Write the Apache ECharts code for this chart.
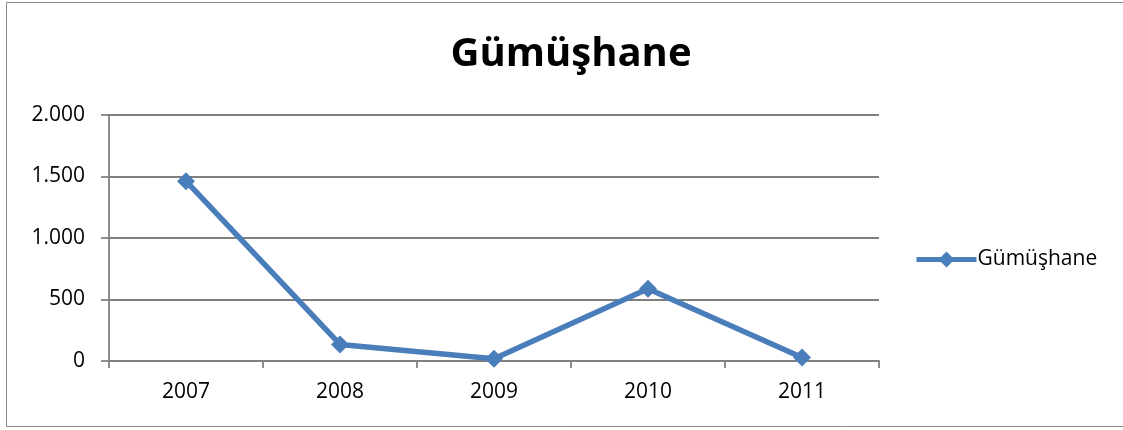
<!DOCTYPE html>
<html>
<head>
<meta charset="utf-8">
<script src="https://cdn.jsdelivr.net/npm/echarts@6/dist/echarts.min.js"></script>
<style>
  html, body { margin: 0; padding: 0; background: #fff; }
  #chart { width: 1123px; height: 430px; }
</style>
</head>
<body>
<div id="chart"></div>
<script>
// values
const years = ['2007', '2008', '2009', '2010', '2011'];
const gumushane = [1462, 135, 18, 588, 28];
const seriesName = 'Gümüşhane';

const chart = echarts.init(document.getElementById('chart'));

// turkish thousands separator: 1.500
function fmt(v) {
    return String(v).replace(/\B(?=(\d{3})+(?!\d))/g, '.');
}

const font = 'Open Sans, Liberation Sans, sans-serif';

chart.setOption({
    animation: false,
    backgroundColor: '#fff',
    graphic: [{
        type: 'rect',
        shape: { x: 6.5, y: 2.5, width: 1130, height: 424 },
        style: { fill: 'none', stroke: '#888', lineWidth: 1 },
        silent: true
    }],
    title: {
        text: seriesName,
        left: 566,
        textAlign: 'center',
        top: 30,
        textStyle: { fontFamily: font, fontSize: 40, fontWeight: 'bold', color: '#000' }
    },
    legend: {
        data: [seriesName],
        left: 909,
        top: 244,
        itemWidth: 60,
        itemHeight: 20,
        itemGap: 4,
        lineStyle: { width: 5 },
        textStyle: { fontFamily: font, fontSize: 21, color: '#000', padding: [0, 0, 0, -4] }
    },
    grid: { left: 109, right: 244, top: 115, bottom: 69 },
    xAxis: {
        type: 'category',
        data: years,
        boundaryGap: true,
        axisLine: { lineStyle: { color: '#808080', width: 1.8 } },
        axisTick: { show: true, length: 7, lineStyle: { color: '#808080', width: 1.8 } },
        axisLabel: { fontFamily: font, fontSize: 21, color: '#000', margin: 21 }
    },
    yAxis: {
        type: 'value',
        min: 0,
        max: 2000,
        interval: 500,
        axisLine: { show: true, lineStyle: { color: '#808080', width: 1.8 } },
        axisTick: { show: true, length: 8, lineStyle: { color: '#808080', width: 1.8 } },
        splitLine: { lineStyle: { color: '#808080', width: 1.8 } },
        axisLabel: { fontFamily: font, fontSize: 21, color: '#000', margin: 24, formatter: fmt }
    },
    series: [{
        name: seriesName,
        type: 'line',
        data: gumushane,
        symbol: 'diamond',
        symbolSize: 18,
        itemStyle: { color: '#4a7ebb' },
        lineStyle: { color: '#4a7ebb', width: 5.5 }
    }]
});
</script>
</body>
</html>
